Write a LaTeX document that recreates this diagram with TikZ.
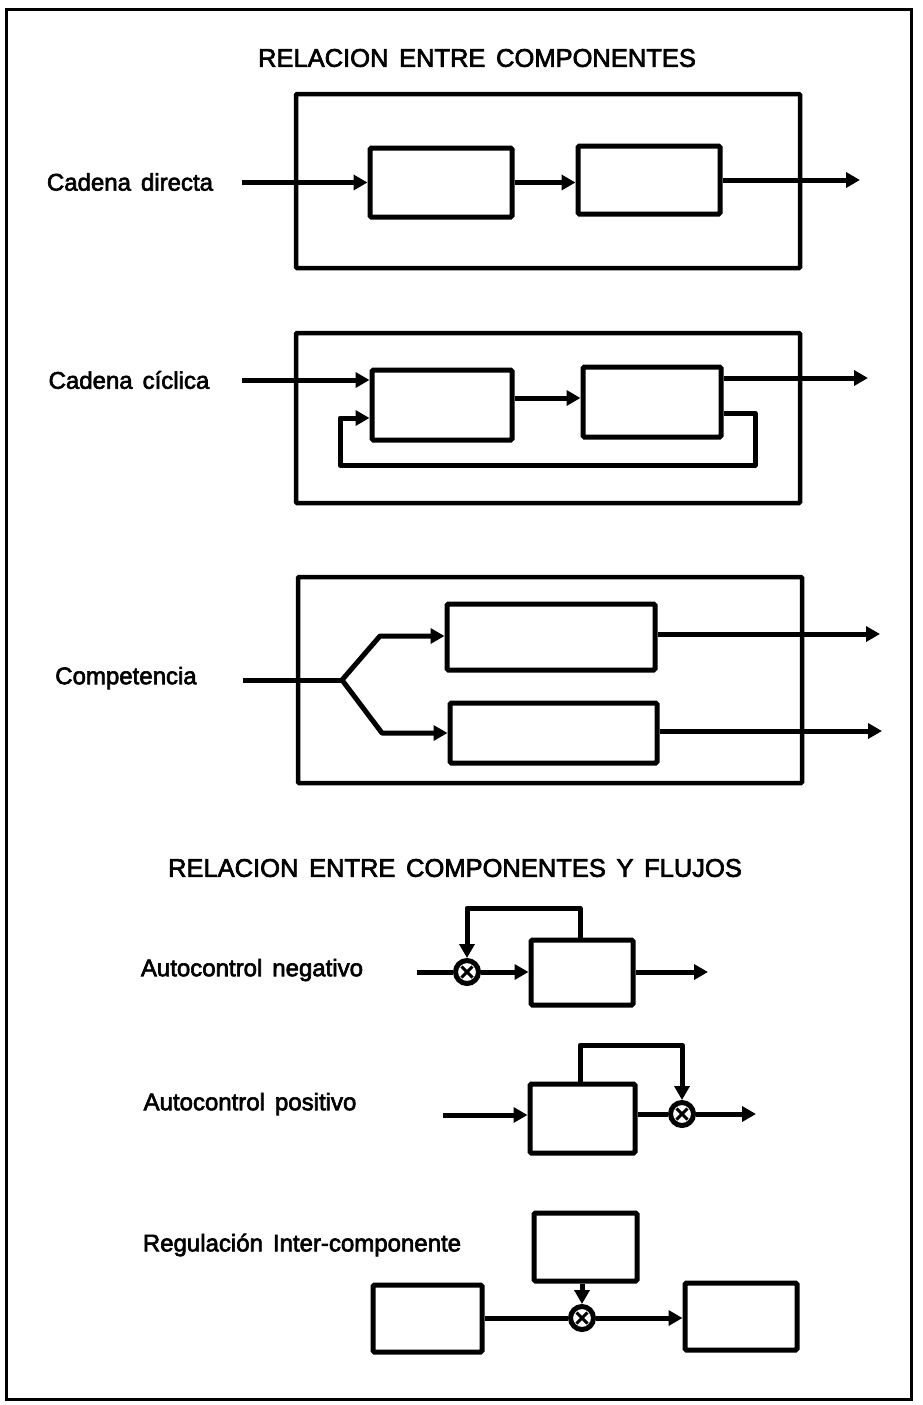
\documentclass[tikz,border=0pt]{standalone}
\usepackage{fontspec}
\setmainfont{Liberation Sans}
\newfontfamily\medfont{Liberation Sans}[FakeBold=2.6, WordSpace={1.5,0.5,0.5}]
\usetikzlibrary{arrows.meta}
\tikzset{
  blk/.style={draw, line width=5pt, rectangle, inner sep=0pt, rounded corners=1.5pt},
  frame/.style={draw, line width=4.5pt, rectangle, inner sep=0pt, rounded corners=1pt},
  arr/.style={line width=5pt, -{Triangle[length=14pt,width=15pt]}, line join=round},
  ln/.style={line width=5pt, line join=round},
  ttl/.style={font=\medfont\fontsize{25.5}{30}\selectfont, inner sep=0pt},
  lbl/.style={font=\medfont\fontsize{24}{29}\selectfont, inner sep=0pt},
  summ/.style={circle, draw, fill=white, line width=5pt, minimum size=23pt, inner sep=0pt,
    path picture={\draw[line width=3pt]
      ([shift={(-5.5,-5.5)}]path picture bounding box.center) -- ([shift={(5.5,5.5)}]path picture bounding box.center)
      ([shift={(-5.5,5.5)}]path picture bounding box.center) -- ([shift={(5.5,-5.5)}]path picture bounding box.center);}}
}
\begin{document}
\begin{tikzpicture}[x=1pt,y=-1pt]
\useasboundingbox (0,0) rectangle (923,1405);
\draw[line width=3pt] (6,10) rectangle (911,1399);

% ---------- Title 1
\node[ttl] (t1) at (477,58) {RELACION ENTRE COMPONENTES};

% ---------- Cadena directa
\node[lbl] (l1) at (130,182) {Cadena directa};
\node[frame, minimum width=504pt, minimum height=174pt] (o1) at (548,181) {};
\node[blk, minimum width=142pt, minimum height=69pt] (d1) at (441,182.5) {};
\node[blk, minimum width=142pt, minimum height=68pt] (d2) at (649,180) {};
\coordinate (in1) at (242,182.5);
\coordinate (out1) at (860,180);
\draw[arr] (in1) -- (d1.west);
\draw[arr] (d1.east) -- (d1.east -| d2.west);
\draw[arr] (d2.east) -- (out1);

% ---------- Cadena ciclica
\node[lbl] (l2) at (129,380) {Cadena cíclica};
\node[frame, minimum width=504pt, minimum height=170pt] (o2) at (548,418) {};
\node[blk, minimum width=140pt, minimum height=70pt] (c1) at (442,405) {};
\node[blk, minimum width=138pt, minimum height=70pt] (c2) at (652,402) {};
\coordinate (in2) at (242,380);
\coordinate (mid2) at (548,398);
\coordinate (out2) at (868,378);
\coordinate (f1) at (755,413);
\coordinate (f2) at (755,465);
\coordinate (f3) at (340,465);
\coordinate (f4) at (340,418);
\draw[arr] (in2) -- (in2 -| c1.west);
\draw[arr] (mid2 -| c1.east) -- (mid2 -| c2.west);
\draw[arr] (out2 -| c2.east) -- (out2);
\draw[arr] (f1 -| c2.east) -- (f1) -- (f2) -- (f3) -- (f4) -- (f4 -| c1.west);

% ---------- Competencia
\node[lbl] (l3) at (126,678) {Competencia};
\node[frame, minimum width=504pt, minimum height=206pt] (o3) at (550,680) {};
\node[blk, minimum width=208pt, minimum height=66pt] (k1) at (551,637) {};
\node[blk, minimum width=207pt, minimum height=60pt] (k2) at (553.5,733) {};
\coordinate (in3) at (243,680);
\coordinate (sp) at (342,680);
\coordinate (b1) at (380,636);
\coordinate (b2) at (382,733);
\coordinate (out3a) at (880,634);
\coordinate (out3b) at (882,731);
\draw[ln] (in3) -- (sp);
\draw[arr] (sp) -- (b1) -- (b1 -| k1.west);
\draw[arr] (sp) -- (b2) -- (b2 -| k2.west);
\draw[arr] (out3a -| k1.east) -- (out3a);
\draw[arr] (out3b -| k2.east) -- (out3b);

% ---------- Title 2
\node[ttl] (t2) at (455,868) {RELACION ENTRE COMPONENTES Y FLUJOS};

% ---------- Autocontrol negativo
\node[lbl] (l4) at (252,970) {Autocontrol negativo};
\node[blk, minimum width=102pt, minimum height=65pt] (n1) at (582,972.5) {};
\node[summ] (s1) at (467,972) {};
\coordinate (in4) at (417,972);
\coordinate (out4) at (708,972);
\coordinate (g1) at (580,908);
\draw[ln] (in4) -- (s1);
\draw[arr] (s1) -- (s1 -| n1.west);
\draw[arr] (out4 -| n1.east) -- (out4);
\draw[arr] (g1 |- n1.north) -- (g1) -- (g1 -| s1) -- (s1.north);

% ---------- Autocontrol positivo
\node[lbl] (l5) at (250,1104) {Autocontrol positivo};
\node[blk, minimum width=105pt, minimum height=69pt] (p1) at (582.5,1118.5) {};
\node[summ] (s2) at (682,1114) {};
\coordinate (in5) at (443,1115);
\coordinate (out5) at (756,1114);
\coordinate (h1) at (580,1045);
\draw[arr] (in5) -- (in5 -| p1.west);
\draw[ln] (s2 -| p1.east) -- (s2);
\draw[arr] (s2) -- (out5);
\draw[arr] (h1 |- p1.north) -- (h1) -- (h1 -| s2) -- (s2.north);

% ---------- Regulacion inter-componente
\node[lbl] (l6) at (302,1245) {Regulación Inter-componente};
\node[blk, minimum width=103pt, minimum height=68pt] (r0) at (585.5,1247) {};
\node[blk, minimum width=109pt, minimum height=67pt] (r1) at (427.5,1318.5) {};
\node[blk, minimum width=112pt, minimum height=67pt] (r2) at (741,1316.5) {};
\node[summ] (s3) at (582,1318) {};
\draw[ln] (s3 -| r1.east) -- (s3);
\draw[arr] (s3) -- (s3 -| r2.west);
\draw[arr] (s3 |- r0.south) -- (s3.north);
\end{tikzpicture}
\end{document}
